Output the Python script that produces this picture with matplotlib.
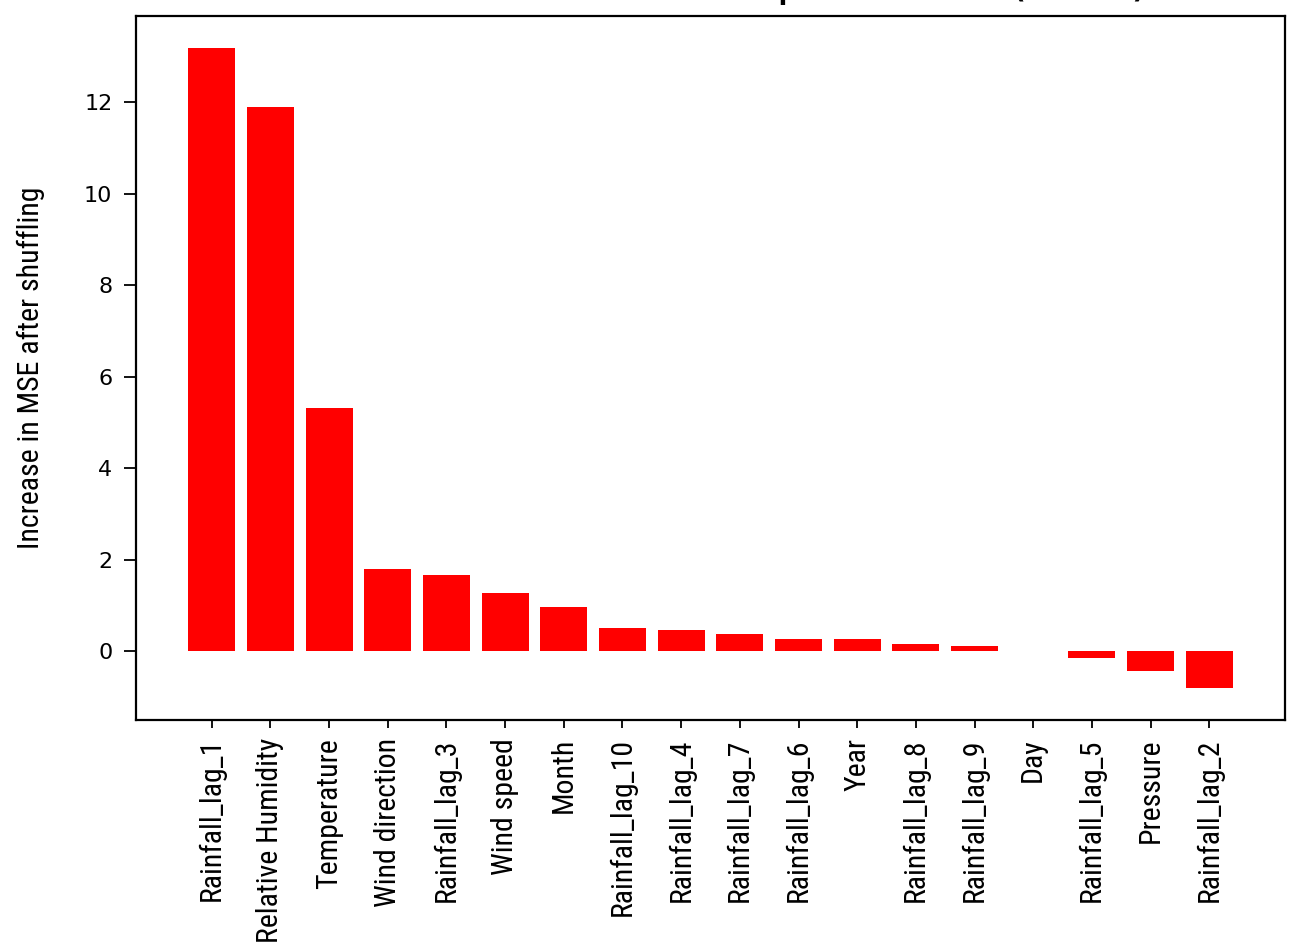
import matplotlib.pyplot as plt

# permutation importance values
features = ['Rainfall_lag_1', 'Relative Humidity', 'Temperature', 'Wind direction',
            'Rainfall_lag_3', 'Wind speed', 'Month', 'Rainfall_lag_10', 'Rainfall_lag_4',
            'Rainfall_lag_7', 'Rainfall_lag_6', 'Year', 'Rainfall_lag_8', 'Rainfall_lag_9',
            'Day', 'Rainfall_lag_5', 'Pressure', 'Rainfall_lag_2']
importance = [13.18, 11.89, 5.32, 1.79, 1.66, 1.27, 0.98, 0.50, 0.46,
              0.39, 0.28, 0.27, 0.17, 0.12, 0.0, -0.14, -0.42, -0.80]

narrow = ['Roboto Condensed', 'Open Sans Condensed', 'PT Sans Narrow',
          'Archivo Narrow', 'Liberation Sans Narrow', 'DejaVu Sans']

fig = plt.figure(figsize=(12.93, 9.5), dpi=100)
ax = fig.add_axes([0.1052, 0.2421, 0.8886, 0.7411])
ax.bar(features, importance, color='red', width=0.8)

ax.set_ylabel('Increase in MSE after shuffling', family=narrow, fontsize=21.5, labelpad=28)
ax.set_xticks(range(len(features)))
ax.set_xticklabels(features, rotation=90, family=narrow, fontsize=21.5)
ax.tick_params(axis='x', length=6, width=1.3, pad=7)
ax.tick_params(axis='y', length=9, width=1.3, pad=8, labelsize=16)
for s in ax.spines.values():
    s.set_linewidth(1.6)

# title is cut off at the top edge in the reference; only descenders show
fig.text(1150 / 1293, 1 + 5 / 950, 'Permutation Feature Importance (MSE)',
         ha='right', va='baseline', fontsize=35)

fig.savefig('out.png', dpi=100)
